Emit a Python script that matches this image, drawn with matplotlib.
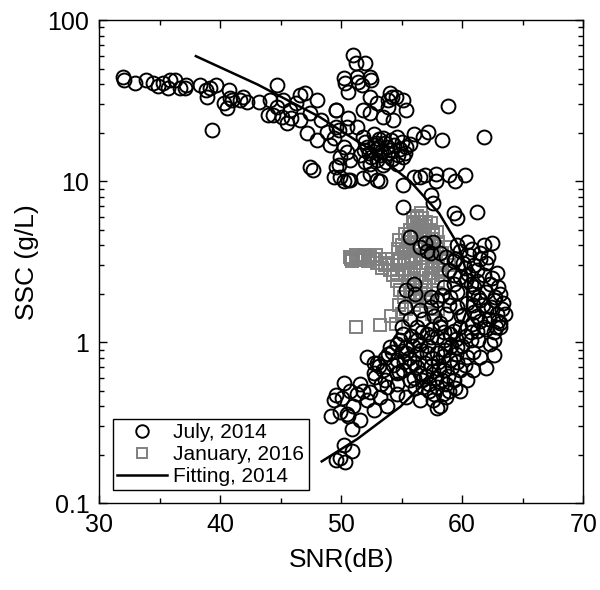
import matplotlib
matplotlib.use('Agg')
import matplotlib.pyplot as plt
from matplotlib.ticker import FixedLocator, LogLocator, NullFormatter, MultipleLocator
from matplotlib.lines import Line2D

plt.rcParams['font.family'] = ['Liberation Sans', 'DejaVu Sans']

# July 2014 measurements, (SNR dB, SSC g/L), grouped by cluster
july_band = [(32.0, 44.2), (32.1, 42.4), (33.0, 40.6), (33.9, 42.4), (34.5, 40.6), (34.9, 38.9),
             (35.3, 40.6), (35.7, 37.8), (35.9, 42.4), (36.3, 42.4), (36.7, 37.8), (37.1, 37.8),
             (37.2, 39.5), (38.35, 39.5), (38.8, 36.7), (38.9, 33.4), (39.2, 37.8), (39.7, 39.5),
             (40.7, 36.7), (40.8, 32.9), (40.3, 30.5), (40.6, 28.4), (41.0, 31.8), (41.65, 31.8),
             (41.9, 33.2), (42.2, 31.0), (43.2, 31.0), (39.3, 20.8)]
july_mid_left = [(44.7, 39.5), (44.1, 31.8), (44.7, 29.0), (45.2, 31.8), (44.4, 25.6), (45.1, 25.1),
                 (45.8, 27.6), (46.3, 30.4), (46.6, 34.2), (47.0, 35.1), (45.9, 24.6), (46.6, 23.9),
                 (47.4, 26.4), (48.0, 31.8), (48.3, 23.9), (47.2, 19.8), (48.0, 18.0), (48.8, 20.2),
                 (49.1, 16.7), (49.6, 27.6), (49.8, 20.7), (50.5, 21.8), (44.0, 25.6), (45.5, 22.9),
                 (47.4, 12.2), (47.7, 11.8), (49.6, 12.3), (49.9, 10.6), (50.6, 10.2), (49.9, 14.1),
                 (50.5, 15.2)]
july_top = [(50.96, 60.6), (51.2, 54.0), (52.0, 54.0), (50.2, 43.4), (50.3, 40.5), (51.3, 44.4),
            (51.4, 41.4), (51.7, 39.5), (52.4, 44.4), (52.5, 42.4), (50.6, 35.8), (54.05, 35.1),
            (54.2, 33.4), (54.5, 33.4), (53.9, 31.8), (55.15, 31.8), (55.4, 27.6), (53.9, 29.0),
            (52.4, 33.4), (52.95, 30.4), (51.8, 27.6), (49.6, 27.6), (50.6, 24.5), (49.6, 21.8),
            (53.5, 25.1), (52.4, 26.3), (54.3, 23.9), (51.3, 21.8),
            (51.8, 18.8), (52.7, 19.7), (53.5, 18.4), (54.6, 18.8), (55.7, 17.1), (52.1, 16.3),
            (52.95, 15.9), (53.8, 16.3), (54.9, 15.9), (51.6, 14.5), (52.5, 14.2), (53.2, 14.5),
            (54.2, 13.8), (55.15, 14.2), (52.4, 12.8), (53.5, 12.6), (50.7, 13.5), (50.2, 16.3),
            (49.4, 18.4), (54.6, 12.8), (56.0, 19.7), (56.8, 18.8), (57.2, 20.2), (58.3, 18.0),
            (58.8, 29.3), (61.8, 18.7), (55.4, 16.3), (52.9, 17.2), (53.9, 14.9), (52.0, 13.2),
            (52.3, 15.0), (52.8, 16.8), (53.3, 15.2), (53.6, 17.3), (54.0, 15.5), (54.4, 16.8),
            (54.7, 14.6), (53.0, 13.6), (52.0, 17.6), (53.1, 18.2), (54.1, 18.0), (55.0, 17.5),
            (53.7, 13.2), (51.9, 15.5), (55.3, 15.0),
            (49.4, 10.6), (50.2, 10.0), (50.7, 10.2), (51.8, 10.4), (52.95, 10.2), (53.2, 10.0),
            (52.4, 11.1), (49.8, 12.6), (55.15, 9.4), (56.0, 10.6), (56.5, 10.6), (56.9, 10.9),
            (57.8, 11.1), (57.8, 10.0), (58.9, 10.9), (59.4, 10.0), (60.25, 10.9), (57.4, 8.2),
            (57.6, 7.3), (55.15, 6.9), (59.3, 6.3), (61.2, 6.4), (59.6, 5.9)]
july_arc = [(55.7, 4.5), (56.5, 3.9), (57.1, 3.7), (57.6, 4.2), (58.2, 3.6), (58.7, 3.4), (59.3, 3.2),
            (59.4, 3.3), (57.4, 3.6), (56.9, 4.1), (60.4, 4.2), (61.8, 4.0), (62.45, 4.1), (62.9, 2.7),
            (61.5, 3.3), (62.0, 3.1), (61.2, 2.8), (60.5, 2.65), (60.1, 3.1), (60.7, 2.3), (62.3, 2.3),
            (63.1, 2.0), (63.4, 1.75), (63.55, 1.5), (63.1, 1.31), (62.6, 1.15), (61.8, 1.25),
            (62.0, 1.58), (61.5, 1.82), (62.6, 1.82), (62.9, 1.5), (61.2, 1.45), (60.9, 2.0),
            (60.4, 1.75), (60.1, 1.48), (60.7, 1.15), (61.35, 1.03), (62.3, 0.98), (56.1, 2.0),
            (57.4, 1.9), (57.9, 1.82), (58.5, 2.2), (59.3, 2.3), (59.8, 2.55), (59.0, 1.9),
            (59.6, 1.65), (58.7, 1.5), (58.2, 1.31), (57.4, 1.65), (56.5, 1.58), (55.3, 1.65),
            (55.7, 1.4), (55.0, 1.25), (56.25, 1.25), (57.1, 1.13), (57.9, 1.07), (59.0, 1.13),
            (59.8, 1.25), (60.8, 3.8), (61.5, 3.6), (62.1, 3.4), (60.2, 2.9), (61.8, 2.6),
            (62.5, 2.5), (63.0, 2.2), (62.7, 1.9), (63.3, 1.6), (63.0, 1.35), (61.5, 1.35),
            (62.0, 1.2), (60.9, 1.7), (61.2, 2.4), (59.6, 4.0), (60.3, 1.1), (60.8, 1.3), (61.0, 1.55),
            (61.7, 1.7), (62.2, 1.4), (62.8, 1.25), (62.4, 1.65), (61.3, 1.9), (62.0, 2.05),
            (61.0, 2.2), (60.3, 2.45), (59.6, 2.05), (59.9, 1.45), (58.9, 1.7), (58.3, 1.95),
            (57.7, 1.45), (56.8, 1.4), (60.6, 3.5), (61.0, 3.0), (59.8, 3.7), (58.9, 2.8), (59.3, 2.6)]
july_low = [(56.5, 0.98), (55.4, 0.94), (54.6, 0.98), (54.2, 0.87), (52.1, 0.81), (52.95, 0.74),
            (52.7, 0.64), (50.2, 0.56), (62.0, 0.69), (60.9, 0.87), (61.5, 0.81), (62.6, 0.83),
            (52.7, 0.74), (53.1, 0.71), (53.6, 0.80), (53.5, 0.67), (52.8, 0.61), (49.4, 0.44),
            (50.05, 0.45), (49.2, 0.35), (49.9, 0.37), (50.5, 0.36), (51.0, 0.40), (51.6, 0.33),
            (50.9, 0.29), (50.6, 0.35), (51.3, 0.48), (51.8, 0.50), (52.4, 0.49), (52.7, 0.38),
            (53.8, 0.40), (51.6, 0.55), (50.2, 0.23), (50.9, 0.21), (49.6, 0.185), (50.3, 0.18),
            (49.9, 0.19), (57.9, 0.39), (58.2, 0.40), (54.6, 0.78), (55.4, 0.86), (55.15, 0.67),
            (56.0, 0.74), (54.6, 0.55), (55.7, 0.58), (56.5, 0.64), (56.8, 0.53), (57.4, 0.71),
            (57.9, 0.86), (58.5, 0.67), (59.0, 0.78), (59.3, 0.58), (59.8, 0.67), (57.9, 0.53),
            (57.6, 0.44), (58.7, 0.46), (59.8, 0.50), (56.5, 0.44), (55.4, 0.46), (54.9, 1.03),
            (56.25, 1.03), (57.4, 1.07), (58.5, 1.03), (59.6, 0.94), (60.4, 0.81), (60.7, 1.03),
            (61.2, 1.18), (62.6, 1.03), (63.1, 1.25), (60.9, 0.67), (60.4, 0.58), (53.8, 0.53),
            (54.05, 0.94), (57.1, 0.86), (58.2, 1.25), (59.3, 1.18), (55.15, 1.13), (54.6, 0.48),
            (53.2, 0.46), (52.1, 0.44), (57.0, 0.62), (57.3, 0.55), (57.8, 0.60), (58.3, 0.58),
            (58.0, 0.75), (58.6, 0.90), (57.5, 0.80), (56.2, 0.85), (55.9, 0.95), (59.2, 0.70),
            (58.9, 0.50), (58.4, 0.48), (57.7, 0.48), (56.9, 0.74), (56.0, 0.60), (55.2, 0.75),
            (54.8, 0.65), (59.5, 0.85), (60.0, 0.95), (49.6, 0.47), (50.7, 0.50), (53.6, 0.58),
            (54.6, 0.64), (55.7, 0.71), (56.0, 2.3), (55.4, 2.1),
            (55.6, 0.80), (56.3, 0.70), (56.6, 0.90), (57.2, 0.95), (57.6, 0.66), (58.1, 0.68),
            (58.4, 0.82), (58.8, 0.62), (59.1, 0.95), (59.6, 0.75), (56.1, 0.52), (56.7, 0.58),
            (57.3, 0.50), (58.7, 0.55), (59.4, 0.52), (55.8, 1.1), (56.7, 1.15), (57.5, 1.2),
            (58.5, 1.15), (59.5, 1.05), (54.3, 0.72), (53.9, 0.84), (55.0, 0.88), (53.3, 0.55),
            (60.2, 0.72)]

# January 2016 measurements
jan_wing = [(50.7, 3.4), (51.2, 3.5), (51.6, 3.3), (52.0, 3.5), (52.4, 3.4), (52.9, 3.5), (53.2, 3.3),
            (50.9, 3.2), (51.4, 3.25), (52.2, 3.2), (53.0, 3.1), (53.6, 3.0), (53.8, 3.3), (54.0, 2.8),
            (54.3, 2.6), (54.6, 2.4), (54.9, 2.1), (55.2, 1.9), (54.3, 3.0), (53.4, 2.9),
            (54.8, 3.0), (54.6, 2.7), (53.9, 3.1), (52.6, 3.3), (51.8, 3.4), (50.8, 3.3)]
jan_main = [(55.9, 5.9), (56.3, 6.1), (56.7, 5.9), (57.0, 5.6), (56.0, 5.4), (55.7, 5.0), (56.5, 5.2),
            (57.3, 5.0), (55.3, 4.7), (56.0, 4.6), (56.8, 4.5), (57.5, 4.4), (58.0, 4.2), (54.8, 4.3),
            (55.5, 4.2), (56.3, 4.1), (57.2, 3.9), (54.7, 3.8), (55.2, 3.6), (55.9, 3.7), (56.6, 3.5),
            (57.8, 3.4), (58.3, 3.6), (54.9, 3.3), (55.5, 3.2), (56.2, 3.1), (57.0, 3.1), (57.6, 2.9),
            (58.2, 2.8), (55.1, 2.8), (55.8, 2.7), (56.5, 2.6), (57.3, 2.5), (58.0, 2.4), (55.5, 2.4),
            (56.2, 2.2), (56.9, 2.2), (57.6, 2.1), (55.7, 2.0), (56.5, 1.9), (57.2, 1.8), (58.6, 2.3),
            (58.9, 3.0), (58.6, 3.9), (57.9, 4.8), (57.4, 5.5), (56.6, 6.3),
            (55.0, 4.0), (55.6, 4.5), (56.2, 4.8), (56.9, 4.8), (57.6, 4.7), (55.2, 3.1), (55.8, 3.4),
            (56.4, 3.8), (57.0, 3.5), (57.5, 3.2), (58.0, 3.0), (56.0, 2.9), (56.8, 2.8), (57.4, 2.7),
            (55.3, 2.6), (56.0, 2.5), (56.7, 2.4), (57.0, 2.0), (56.3, 1.8), (55.9, 5.6), (56.4, 5.6),
            (56.9, 5.3), (55.6, 3.9), (57.9, 3.8), (58.4, 3.2), (58.3, 2.6), (55.4, 3.8), (56.1, 3.3),
            (57.3, 4.2), (57.7, 3.7)]
jan_low = [(51.2, 1.24), (53.2, 1.27), (54.1, 1.45), (54.5, 1.3), (55.0, 1.5), (55.4, 1.6), (54.8, 1.7),
           (57.5, 1.5), (58.0, 1.6), (56.0, 1.7)]

# fitted curve for 2014
fit_ssc = [59.7, 39.8, 25.1, 15.8, 10.0, 6.31, 3.98, 2.51, 1.58, 1.0, 0.631, 0.398, 0.251, 0.182]
fit_snr = [38.0, 43.1, 48.2, 52.35, 55.7, 58.1, 59.7, 60.5, 60.4, 59.4, 57.6, 54.9, 51.35, 48.4]

july = july_band + july_mid_left + july_top + july_arc + july_low
jan = jan_wing + jan_main + jan_low
july_snr, july_ssc = zip(*july)
jan_snr, jan_ssc = zip(*jan)

fig = plt.figure(figsize=(6.0, 5.9), dpi=100)
ax = fig.add_axes([0.165, 0.147, 0.807, 0.819])

ax.plot(jan_snr, jan_ssc, 's', ms=8.0, mfc='none', mec='#808080', mew=1.4, zorder=2)
ax.plot(july_snr, july_ssc, 'o', ms=10, mfc='none', mec='black', mew=1.4, zorder=3)
ax.plot(fit_snr, fit_ssc, '-', color='black', lw=1.8, zorder=4)

ax.set_yscale('log')
ax.set_xlim(30, 70)
ax.set_ylim(0.1, 100)
ax.xaxis.set_major_locator(MultipleLocator(10))
ax.xaxis.set_minor_locator(MultipleLocator(5))
ax.yaxis.set_major_locator(FixedLocator([0.1, 1, 10, 100]))
ax.set_yticklabels(['0.1', '1', '10', '100'])
ax.yaxis.set_minor_locator(LogLocator(base=10, subs=range(2, 10)))
ax.yaxis.set_minor_formatter(NullFormatter())
ax.tick_params(which='both', direction='in', top=True, right=True, labelsize=18, width=1)
ax.tick_params(which='major', length=6, pad=7)
ax.tick_params(which='minor', length=3.5)
for s in ax.spines.values():
    s.set_linewidth(1.0)

ax.set_xlabel('SNR(dB)', fontsize=19, labelpad=8)
ax.set_ylabel('SSC (g/L)', fontsize=19, labelpad=6)

handles = [Line2D([], [], ls='none', marker='o', ms=9, mfc='none', mec='black', mew=1.4),
           Line2D([], [], ls='none', marker='s', ms=7.5, mfc='none', mec='#808080', mew=1.4),
           Line2D([], [], color='black', lw=1.8)]
leg = ax.legend(handles, ['July, 2014', 'January, 2016', 'Fitting, 2014'],
                loc='lower left', bbox_to_anchor=(0.029, 0.027), fontsize=15, frameon=True,
                fancybox=False, edgecolor='black', framealpha=1, borderpad=0.2,
                labelspacing=0.15, handlelength=2.4, handletextpad=0.3, borderaxespad=0)
leg.get_frame().set_linewidth(1.0)

fig.savefig('out.png', dpi=100)
